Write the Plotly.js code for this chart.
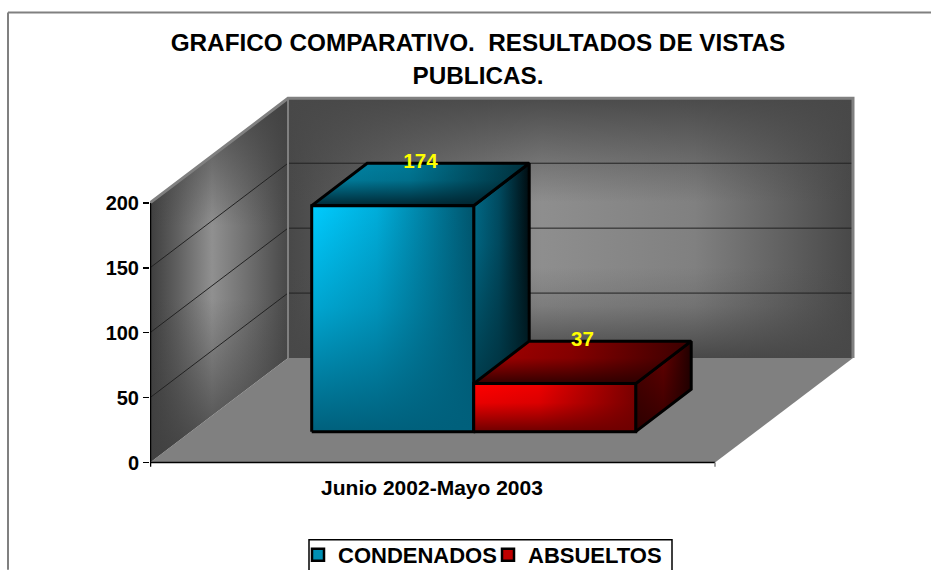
<!DOCTYPE html>
<html>
<head>
<meta charset="utf-8">
<script src="https://cdn.plot.ly/plotly-3.0.1.min.js"></script>
<style>html,body{margin:0;padding:0;background:#fff;overflow:hidden}</style>
</head>
<body>
<div id="chart" style="width:931px;height:570px"></div>
<script>
// ---- data ----
const categories = ['Junio 2002-Mayo 2003'];
const seriesNames = ['CONDENADOS', 'ABSUELTOS'];
const condenados = [174];
const absueltos = [37];
const yTicks = [0, 50, 100, 150, 200];
const gridValues = [50, 100, 150];

// ---- projection of the 3D box, in axis units ----
const PX = 1.3;                     // pixels per y unit
const FLOOR_W = 565, YMAX = 200;
const WALL_DX = 138, WALL_DY = 104.7 / PX;
const BAR_X = 161.7, BAR_W = 162;
const BAR_BASE = 31 / PX, BAR_DX = 55.5, BAR_DY = 42.5 / PX;

const FONT = 'Liberation Sans, Arial, sans-serif';
const traces = [];

function poly(pts, extra) {
  return Object.assign({
    type: 'scatter', mode: 'lines', showlegend: false, hoverinfo: 'skip',
    x: pts.map(p => p[0]), y: pts.map(p => p[1])
  }, extra);
}
function grad(type, stops) {
  return {type: type, colorscale: stops};
}
function face(pts, hStops, vStops, outline) {
  traces.push(poly(pts.concat([pts[0]]), {fill: 'toself', fillgradient: grad('horizontal', hStops), line: {width: 0}}));
  if (vStops) traces.push(poly(pts.concat([pts[0]]), {fill: 'toself', fillgradient: grad('vertical', vStops), line: {width: 0}}));
  if (outline) traces.push(poly(pts.concat([pts[0]]), {line: {color: outline, width: 3}}));
}

// real bars (carry the series and the legend swatches)
const BAR_SWATCH = ['#0090b4', '#c00000'];
[condenados, absueltos].forEach((vals, i) => {
  traces.push({
    type: 'bar', name: seriesNames[i], x: [BAR_X + BAR_W * (i + 0.5)], y: vals, width: BAR_W, base: BAR_BASE,
    marker: {color: BAR_SWATCH[i], line: {color: '#000', width: 2.5}},
    hoverinfo: 'name+y'
  });
});

// left wall
face([[0, 0], [WALL_DX, WALL_DY], [WALL_DX, WALL_DY + YMAX], [0, YMAX]],
  [[0, '#3e3e3e'], [0.2, '#606060'], [0.45, '#909090'], [0.7, '#707070'], [1, '#484848']],
  [[0, 'rgba(64,64,64,0.95)'], [0.25, 'rgba(64,64,64,0.4)'], [0.45, 'rgba(64,64,64,0)'], [0.65, 'rgba(64,64,64,0)'], [0.85, 'rgba(64,64,64,0.5)'], [1, 'rgba(64,64,64,0.85)']]);
// back wall
face([[WALL_DX, WALL_DY], [WALL_DX + FLOOR_W, WALL_DY], [WALL_DX + FLOOR_W, WALL_DY + YMAX], [WALL_DX, WALL_DY + YMAX]],
  [[0, '#484848'], [0.2, '#6a6a6a'], [0.45, '#8e8e8e'], [0.72, '#808080'], [1, '#484848']],
  [[0, 'rgba(72,72,72,1)'], [0.2, 'rgba(72,72,72,0.25)'], [0.35, 'rgba(72,72,72,0)'], [0.6, 'rgba(72,72,72,0)'], [0.85, 'rgba(72,72,72,0.6)'], [1, 'rgba(72,72,72,0.95)']]);
// floor
const floorPts = [[0, 0], [FLOOR_W, 0], [FLOOR_W + WALL_DX, WALL_DY], [WALL_DX, WALL_DY], [0, 0]];
traces.push(poly(floorPts, {fill: 'toself', fillcolor: '#808080', line: {width: 0}}));

// grid lines on the walls
gridValues.forEach(v => {
  traces.push(poly([[0, v], [WALL_DX, v + WALL_DY], [WALL_DX + FLOOR_W, v + WALL_DY]], {line: {color: '#222222', width: 1}}));
});
// wall edges
traces.push(poly([[0, YMAX], [WALL_DX, YMAX + WALL_DY], [WALL_DX + FLOOR_W, YMAX + WALL_DY], [WALL_DX + FLOOR_W, WALL_DY]], {line: {color: '#808080', width: 3}}));
traces.push(poly([[WALL_DX, YMAX + WALL_DY], [WALL_DX, WALL_DY]], {line: {color: '#808080', width: 2}}));

// 3D faces of one bar, computed from its value
function bar3d(i, value, pal) {
  const x0 = BAR_X + BAR_W * i, x1 = x0 + BAR_W;
  const y0 = BAR_BASE, y1 = BAR_BASE + value;
  face([[x1, y0], [x1 + BAR_DX, y0 + BAR_DY], [x1 + BAR_DX, y1 + BAR_DY], [x1, y1]], pal.sideH, pal.sideV, '#000');
  face([[x0, y1], [x1, y1], [x1 + BAR_DX, y1 + BAR_DY], [x0 + BAR_DX, y1 + BAR_DY]], pal.topH, pal.topV, '#000');
  face([[x0, y0], [x1, y0], [x1, y1], [x0, y1]], pal.frontH, pal.frontV, '#000');
}
bar3d(0, condenados[0], {
  frontH: [[0, '#00ccff'], [0.4, '#00aedb'], [1, '#00546c']],
  frontV: [[0, 'rgba(0,96,124,1)'], [0.55, 'rgba(0,96,124,0.35)'], [1, 'rgba(0,96,124,0)']],
  topH: [[0, '#0088aa'], [0.45, '#007896'], [1, '#002f3b']],
  topV: [[0, 'rgba(0,30,40,0.9)'], [0.6, 'rgba(0,30,40,0.1)'], [1, 'rgba(0,30,40,0)']],
  sideH: [[0, '#006c8a'], [0.45, '#004c62'], [1, '#000b0f']],
  sideV: [[0, 'rgba(0,40,50,0.9)'], [0.7, 'rgba(0,40,50,0.1)'], [1, 'rgba(0,40,50,0)']]
});
bar3d(1, absueltos[0], {
  frontH: [[0, '#ff0000'], [0.4, '#ee0000'], [1, '#780000']],
  frontV: [[0, 'rgba(110,0,0,1)'], [0.6, 'rgba(110,0,0,0.15)'], [1, 'rgba(110,0,0,0)']],
  topH: [[0, '#aa0000'], [0.45, '#880000'], [1, '#3a0000']],
  topV: [[0, 'rgba(40,0,0,0.9)'], [0.6, 'rgba(40,0,0,0.05)'], [1, 'rgba(40,0,0,0)']],
  sideH: [[0, '#500000'], [0.5, '#680000'], [1, '#200000']],
  sideV: [[0, 'rgba(30,0,0,0.7)'], [1, 'rgba(30,0,0,0)']]
});

// x axis line and y axis line
traces.push(poly([[0, 0], [FLOOR_W, 0]], {line: {color: '#000', width: 1.5}}));
traces.push(poly([[0.5, YMAX], [0.5, -3.2]], {line: {color: '#000', width: 1.5}}));
traces.push(poly([[FLOOR_W, 0], [FLOOR_W, -3.2]], {line: {color: '#808080', width: 1.5}}));

// value labels
traces.push({
  type: 'scatter', mode: 'text', showlegend: false, hoverinfo: 'skip',
  x: [condenados, absueltos].map((v, i) => BAR_X + BAR_W * (i + 0.5) + BAR_DX / 2),
  y: [condenados[0], absueltos[0]].map(v => BAR_BASE + v + BAR_DY),
  text: [condenados[0], absueltos[0]].map(String),
  textposition: 'middle center',
  textfont: {family: FONT, size: 20.5, color: '#ffff00', weight: 700}
});

const PLOT_L = 150, PLOT_T = 85.7, PLOT_W = 720, YLOW = -8, YHIGH = 290;
const PLOT_H = (YHIGH - YLOW) * PX;
const layout = {
  width: 931, height: 570,
  paper_bgcolor: '#fff', plot_bgcolor: 'rgba(0,0,0,0)',
  barmode: 'overlay',
  margin: {l: PLOT_L, r: 931 - PLOT_L - PLOT_W, t: PLOT_T, b: 570 - PLOT_T - PLOT_H, pad: 0, autoexpand: false},
  title: {
    text: '<span style="font-size:24.3px">GRAFICO COMPARATIVO.\u00a0 RESULTADOS DE VISTAS<br>PUBLICAS.</span>',
    x: 478 / 931, xanchor: 'center', y: 1 - 51 / 570, yanchor: 'middle',
    font: {family: FONT, size: 25.4, color: '#000', weight: 700}
  },
  xaxis: {
    range: [0, PLOT_W], showgrid: false, zeroline: false, showline: false,
    tickmode: 'array', tickvals: [282], ticktext: categories, ticks: '', ticklen: 0,
    tickfont: {family: FONT, size: 21, color: '#000', weight: 700}
  },
  yaxis: {
    range: [YLOW, YHIGH], showgrid: false, zeroline: false, showline: false,
    tickmode: 'array', tickvals: yTicks, ticks: 'outside', ticklen: 6, tickwidth: 1.5, tickcolor: '#000',
    tickfont: {family: FONT, size: 20, color: '#000', weight: 700}
  },
  legend: {
    orientation: 'h', xref: 'container', yref: 'container', x: 298 / 931, xanchor: 'left', y: 1 - 534 / 570, yanchor: 'top',
    bgcolor: 'rgba(0,0,0,0)', borderwidth: 0, entrywidth: 145, entrywidthmode: 'pixels',
    font: {family: FONT, size: 22, color: '#000', weight: 700}
  },
  shapes: [
    {type: 'line', xref: 'paper', yref: 'paper', layer: 'below',
     x0: (8 - PLOT_L) / PLOT_W, x1: (8 - PLOT_L) / PLOT_W,
     y0: 1 + (PLOT_T - 12) / PLOT_H, y1: 1 + (PLOT_T - 570) / PLOT_H,
     line: {color: '#808080', width: 2}},
    {type: 'line', xref: 'paper', yref: 'paper', layer: 'below',
     x0: (8 - PLOT_L) / PLOT_W, x1: (931 - PLOT_L) / PLOT_W,
     y0: 1 + (PLOT_T - 12) / PLOT_H, y1: 1 + (PLOT_T - 12) / PLOT_H,
     line: {color: '#808080', width: 2}},
    {type: 'rect', xref: 'paper', yref: 'paper', layer: 'below',
     x0: (309 - PLOT_L) / PLOT_W, x1: (672 - PLOT_L) / PLOT_W,
     y0: 1 + (PLOT_T - 540) / PLOT_H, y1: 1 + (PLOT_T - 580) / PLOT_H,
     fillcolor: '#fff', line: {color: '#000', width: 1.5}}
  ]
};
Plotly.newPlot('chart', traces, layout, {displayModeBar: false, staticPlot: true});
</script>
</body>
</html>
